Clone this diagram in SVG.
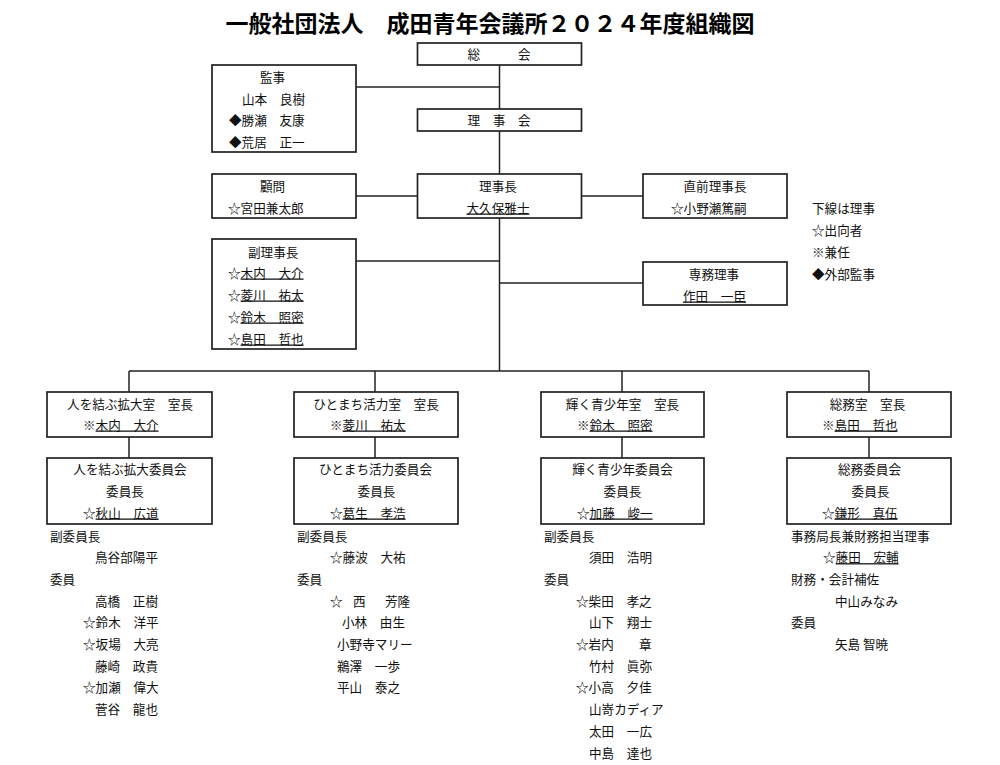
<svg xmlns="http://www.w3.org/2000/svg" width="1000" height="765" viewBox="0 0 1000 765">
<style>
text{font-family:"Noto Sans CJK JP","Noto Sans CJK SC",sans-serif;font-size:12.6px;fill:#111}
.title{font-size:23px;font-weight:bold;fill:#000}
.m{text-anchor:middle}
.u{text-decoration:underline}
.box{fill:#fff;stroke:#222;stroke-width:1.7}
.c line{stroke:#222;stroke-width:1.5}
</style>
<rect width="1000" height="765" fill="#fff"/>
<text class="title m" x="490" y="32">一般社団法人　成田青年会議所２０２４年度組織図</text>

<g class="c" id="connectors">
<line x1="499.5" y1="65" x2="499.5" y2="371"/>
<line x1="356" y1="87" x2="499.5" y2="87"/>
<line x1="356" y1="196" x2="417" y2="196"/>
<line x1="581" y1="196" x2="643" y2="196"/>
<line x1="356" y1="261" x2="499.5" y2="261"/>
<line x1="499.5" y1="283" x2="643" y2="283"/>
<line x1="129" y1="371" x2="869" y2="371"/>
<line x1="129" y1="371" x2="129" y2="392"/>
<line x1="375" y1="371" x2="375" y2="392"/>
<line x1="622" y1="371" x2="622" y2="392"/>
<line x1="869" y1="371" x2="869" y2="392"/>
<line x1="129" y1="437" x2="129" y2="458"/>
<line x1="375" y1="437" x2="375" y2="458"/>
<line x1="622" y1="437" x2="622" y2="458"/>
<line x1="869" y1="437" x2="869" y2="458"/>
</g>

<g id="soukai">
<rect class="box" x="417.5" y="43" width="164" height="22"/>
<text class="m" x="499" y="58.5">総　　　会</text>
</g>

<g id="kanji">
<rect class="box" x="212" y="65" width="144" height="87"/>
<text x="260" y="81.5">監事</text>
<text x="242" y="103.5">山本　良樹</text>
<text x="229" y="124.5">◆勝瀬　友康</text>
<text x="229" y="146.5">◆荒居　正一</text>
</g>

<g id="rijikai">
<rect class="box" x="417.5" y="109" width="164" height="22"/>
<text class="m" x="499" y="124.5">理　事　会</text>
</g>

<g id="komon">
<rect class="box" x="212" y="174" width="144" height="44"/>
<text x="260" y="190.5">顧問</text>
<text x="228" y="212.5">☆宮田兼太郎</text>
</g>

<g id="rijicho">
<rect class="box" x="417.5" y="174" width="164" height="44"/>
<text class="m" x="498" y="190.5">理事長</text>
<text class="m u" x="498" y="212.5">大久保雅士</text>
</g>

<g id="chokuzen">
<rect class="box" x="643" y="174" width="144" height="44"/>
<text class="m" x="715" y="190.5">直前理事長</text>
<text x="671" y="212.5">☆小野瀬篤嗣</text>
</g>

<g id="legend">
<text x="812" y="212.5">下線は理事</text>
<text x="812" y="234.5">☆出向者</text>
<text x="812" y="256.5">※兼任</text>
<text x="812" y="278.5">◆外部監事</text>
</g>

<g id="fukurijicho">
<rect class="box" x="212" y="239" width="144" height="110"/>
<text x="248" y="256.5">副理事長</text>
<text x="228" y="277.5">☆<tspan class="u">木内　大介</tspan></text>
<text x="228" y="299.5">☆<tspan class="u">菱川　祐太</tspan></text>
<text x="228" y="321.5">☆<tspan class="u">鈴木　照密</tspan></text>
<text x="228" y="343.5">☆<tspan class="u">島田　哲也</tspan></text>
</g>

<g id="senmu">
<rect class="box" x="643" y="262" width="144" height="43"/>
<text class="m" x="714" y="278.5">専務理事</text>
<text class="u" x="683" y="300.5">作田　一臣</text>
</g>

<g id="room1">
<rect class="box" x="47" y="392" width="165" height="45"/>
<text class="m" x="130" y="408.5">人を結ぶ拡大室　室長</text>
<text x="83" y="429.5">※<tspan class="u">木内　大介</tspan></text>
</g>
<g id="comm1">
<rect class="box" x="47" y="458" width="165" height="66"/>
<text class="m" x="130" y="473.5">人を結ぶ拡大委員会</text>
<text class="m" x="125" y="495.5">委員長</text>
<text x="83" y="517.5">☆<tspan class="u">秋山　広道</tspan></text>
</g>

<g id="room2">
<rect class="box" x="294" y="392" width="164" height="45"/>
<text class="m" x="376" y="408.5">ひとまち活力室　室長</text>
<text x="330" y="429.5">※<tspan class="u">菱川　祐太</tspan></text>
</g>
<g id="comm2">
<rect class="box" x="294" y="458" width="164" height="66"/>
<text class="m" x="375.5" y="473.5">ひとまち活力委員会</text>
<text class="m" x="376.5" y="495.5">委員長</text>
<text x="330" y="517.5">☆<tspan class="u">葛生　孝浩</tspan></text>
</g>

<g id="room3">
<rect class="box" x="541" y="392" width="163" height="45"/>
<text class="m" x="622.5" y="408.5">輝く青少年室　室長</text>
<text x="577" y="429.5">※<tspan class="u">鈴木　照密</tspan></text>
</g>
<g id="comm3">
<rect class="box" x="541" y="458" width="163" height="66"/>
<text class="m" x="622.5" y="473.5">輝く青少年委員会</text>
<text class="m" x="622.5" y="495.5">委員長</text>
<text x="577" y="517.5">☆<tspan class="u">加藤　峻一</tspan></text>
</g>

<g id="room4">
<rect class="box" x="787" y="392" width="164" height="45"/>
<text class="m" x="867.5" y="408.5">総務室　室長</text>
<text x="822" y="429.5">※<tspan class="u">島田　哲也</tspan></text>
</g>
<g id="comm4">
<rect class="box" x="787" y="458" width="164" height="66"/>
<text class="m" x="869.5" y="473.5">総務委員会</text>
<text class="m" x="870.5" y="495.5">委員長</text>
<text x="822" y="517.5">☆<tspan class="u">鎌形　真伍</tspan></text>
</g>

<g id="list1">
<text x="50" y="540.5">副委員長</text>
<text x="95" y="562.2">鳥谷部陽平</text>
<text x="50" y="583.9">委員</text>
<text x="95" y="605.6">高橋　正樹</text>
<text x="83" y="627.3">☆鈴木　洋平</text>
<text x="83" y="649">☆坂場　大亮</text>
<text x="95" y="670.7">藤崎　政貴</text>
<text x="83" y="692.4">☆加瀬　偉大</text>
<text x="95" y="714.1">菅谷　龍也</text>
</g>

<g id="list2">
<text x="297" y="540.5">副委員長</text>
<text x="330" y="562.2">☆藤波　大祐</text>
<text x="297" y="583.9">委員</text>
<text y="605.6"><tspan x="330">☆ </tspan><tspan x="353">西　 </tspan><tspan x="385">芳隆</tspan></text>
<text x="342" y="627.3">小林　由生</text>
<text x="337" y="649">小野寺マリー</text>
<text x="337" y="670.7">鵜澤　一歩</text>
<text x="337" y="692.4">平山　泰之</text>
</g>

<g id="list3">
<text x="544" y="540.5">副委員長</text>
<text x="589" y="562.2">須田　浩明</text>
<text x="544" y="583.9">委員</text>
<text x="576" y="605.6">☆柴田　孝之</text>
<text x="589" y="627.3">山下　翔士</text>
<text x="576" y="649">☆岩内　　章</text>
<text x="589" y="670.7">竹村　眞弥</text>
<text x="576" y="692.4">☆小高　夕佳</text>
<text x="589" y="714.1">山嵜カディア</text>
<text x="589" y="735.8">太田　一広</text>
<text x="589" y="757.5">中島　達也</text>
</g>

<g id="list4">
<text x="791" y="540.5">事務局長兼財務担当理事</text>
<text x="823" y="562.2">☆<tspan class="u">藤田　宏輔</tspan></text>
<text x="791" y="583.9">財務・会計補佐</text>
<text x="835" y="605.6">中山みなみ</text>
<text x="791" y="627.3">委員</text>
<text x="835" y="649">矢島 智暁</text>
</g>
</svg>
